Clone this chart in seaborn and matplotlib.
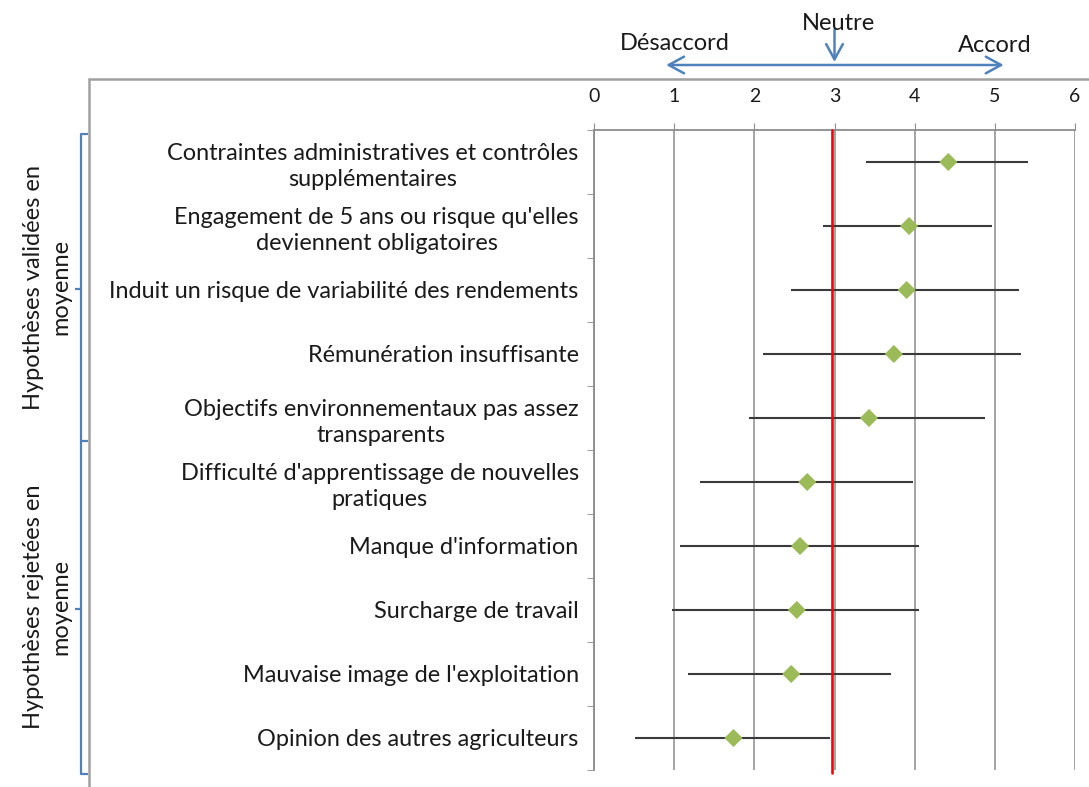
import numpy as np
import pandas as pd
import matplotlib.pyplot as plt
import seaborn as sns
from matplotlib.lines import Line2D
from matplotlib.transforms import blended_transform_factory

# Data (Likert scale 1-5, mean +/- spread)
categories = [
    "Contraintes administratives et contrôles\nsupplémentaires",
    "Engagement de 5 ans ou risque qu'elles\ndeviennent obligatoires",
    "Induit un risque de variabilité des rendements",
    "Rémunération insuffisante",
    "Objectifs environnementaux pas assez\ntransparents",
    "Difficulté d'apprentissage de nouvelles\npratiques",
    "Manque d'information",
    "Surcharge de travail",
    "Mauvaise image de l'exploitation",
    "Opinion des autres agriculteurs",
]
means = [4.42, 3.93, 3.90, 3.74, 3.43, 2.66, 2.57, 2.53, 2.46, 1.74]
lows = [3.39, 2.86, 2.46, 2.11, 1.93, 1.32, 1.07, 0.97, 1.17, 0.51]
highs = [5.41, 4.96, 5.30, 5.33, 4.88, 3.98, 4.06, 4.06, 3.71, 2.95]
neutral = 2.97
x_ticks = [0, 1, 2, 3, 4, 5, 6]
group_labels = ["Hypothèses validées en\nmoyenne", "Hypothèses rejetées en\nmoyenne"]
scale_labels = ["Désaccord", "Neutre", "Accord"]

sns.set_style("white")
plt.rcParams["font.family"] = ["Lato", "DejaVu Sans"]

W, H = 1089, 787
fig = plt.figure(figsize=(W / 100, H / 100), dpi=100)


def fx(px):
    return px / W


def fy(py):
    return 1 - py / H


ax = fig.add_axes([fx(594), fy(770), fx(1075) - fx(594), fy(130) - fy(770)])

df = pd.DataFrame({"label": categories, "mean": means, "low": lows, "high": highs})
df["pos"] = np.arange(len(df))

# spread lines
ax.hlines(df["pos"], df["low"], df["high"], color="#3a3a3a", lw=1.5, zorder=3)
# mean markers
sns.scatterplot(data=df, x="mean", y="pos", marker="D", s=85, color="#9BBB59",
                edgecolor="none", zorder=5, ax=ax, legend=False)

ax.axvline(neutral, color="#FF0000", lw=1.9, zorder=4, ymin=-0.005, ymax=1, clip_on=False)

ax.set_xlim(0, 6)
ax.set_ylim(len(df) - 0.5, -0.5)
ax.xaxis.tick_top()
ax.set_xticks(x_ticks)
ax.set_xticklabels([str(t) for t in x_ticks])
ax.set_yticks(df["pos"])
ax.set_yticklabels(categories, ha="right", multialignment="center", linespacing=1.3)
ax.set_yticks(np.arange(len(df) + 1) - 0.5, minor=True)
ax.set_xlabel("")
ax.set_ylabel("")

ax.grid(axis="x", color="#8c8c8c", lw=1.1)
ax.grid(axis="y", visible=False)
for side in ["right", "bottom"]:
    ax.spines[side].set_visible(False)
for side in ["left", "top"]:
    ax.spines[side].set_color("#8c8c8c")
    ax.spines[side].set_linewidth(1.3)

ax.tick_params(axis="x", which="major", direction="out", length=5, color="#8c8c8c",
               pad=13, labelsize=14, labelcolor="#1a1a1a")
ax.tick_params(axis="y", which="major", length=0, pad=11, labelsize=16.9, labelcolor="#1a1a1a")
ax.tick_params(axis="y", which="minor", direction="out", length=5, color="#8c8c8c", left=True)

# scale arrows above the axis
blue = "#4F81BD"
top_tr = blended_transform_factory(ax.transData, fig.transFigure)
ax.annotate("", xy=(0.9, fy(65)), xytext=(5.11, fy(65)),
            xycoords=top_tr, textcoords=top_tr,
            arrowprops=dict(arrowstyle="<->,head_length=1.1,head_width=0.6",
                            color=blue, lw=1.8, mutation_scale=10, shrinkA=0, shrinkB=0))
ax.annotate("", xy=(3.0, fy(62)), xytext=(3.0, fy(30)),
            xycoords=top_tr, textcoords=top_tr,
            arrowprops=dict(arrowstyle="->,head_length=1.1,head_width=0.6",
                            color=blue, lw=1.8, mutation_scale=10, shrinkA=0, shrinkB=0))
for xv, yv, lab in zip([1.01, 3.05, 5.0], [44, 23, 46], scale_labels):
    ax.text(xv, fy(yv), lab, transform=top_tr, ha="center", va="center",
            fontsize=17, color="#1a1a1a")

# outer chart frame (top and left edges)
frame = dict(color="#a0a0a0", lw=1.8, transform=fig.transFigure)
fig.add_artist(Line2D([fx(89), 1], [fy(79), fy(79)], **frame))
fig.add_artist(Line2D([fx(89), fx(89)], [fy(79), 0], **frame))

# group brackets
br = dict(color=blue, lw=1.6, transform=fig.transFigure, solid_capstyle="butt")
fig.add_artist(Line2D([fx(88), fx(81), fx(81), fx(88)], [fy(134), fy(134), fy(441), fy(441)], **br))
fig.add_artist(Line2D([fx(81), fx(81), fx(88)], [fy(441), fy(774), fy(774)], **br))
for mid in (289, 609):
    fig.add_artist(Line2D([fx(75), fx(81)], [fy(mid), fy(mid)], **br))
for mid, lab in zip((287, 607), group_labels):
    fig.text(fx(47), fy(mid), lab, rotation=90, ha="center", va="center",
             multialignment="center", fontsize=17, linespacing=1.4, color="#1a1a1a")

fig.savefig("out.png", dpi=100)
